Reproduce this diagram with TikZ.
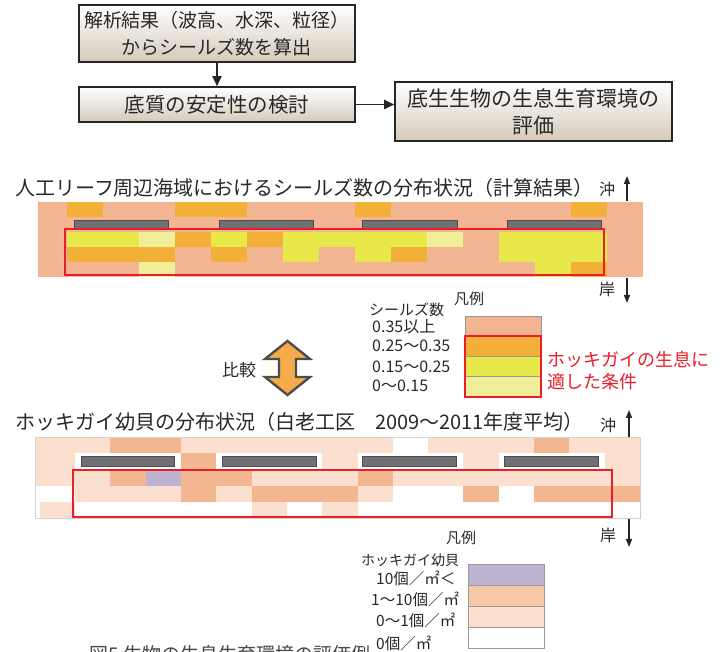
\documentclass[tikz,border=0pt]{standalone}
\usepackage{fontspec}
\setmainfont{Noto Sans CJK JP}
\usetikzlibrary{arrows.meta,positioning}

% map colours
\definecolor{hS}{RGB}{242,180,145}
\definecolor{hO}{RGB}{243,176,56}
\definecolor{hY}{RGB}{232,232,74}
\definecolor{hL}{RGB}{240,238,152}
\definecolor{bP}{RGB}{251,224,207}
\definecolor{bM}{RGB}{244,182,144}
\definecolor{bV}{RGB}{190,180,210}
\definecolor{bW}{RGB}{255,255,255}
\definecolor{lM}{RGB}{247,201,168}
\definecolor{reefgray}{RGB}{112,112,116}
\definecolor{markred}{RGB}{232,30,40}
\definecolor{boxtan}{RGB}{212,202,186}
\definecolor{txt}{RGB}{40,40,40}
\definecolor{cmporange}{RGB}{245,170,75}

\tikzset{
  flowbox/.style={draw=black!85, line width=1.6pt, top color=white, bottom color=boxtan,
    minimum width=276pt, align=center, text=txt, inner sep=0pt},
  flowarrow/.style={line width=1.8pt, draw=black!85, -{Triangle[length=10pt,width=9pt]}},
  reef/.style={fill=reefgray, draw=reefgray!70!black, line width=0.6pt},
  zone/.style={draw=markred, line width=1.8pt},
  legbox/.style={draw=gray!80, line width=0.8pt},
  sidearrow/.style={line width=1.5pt, draw=black!85, -{Triangle[length=8pt,width=6pt]}},
  lbl/.style={inner sep=0pt, text=txt},
}

\begin{document}
\begin{tikzpicture}[x=1pt,y=-1pt]
\useasboundingbox (0,0) rectangle (724,652);

%% flow
\node[flowbox, minimum height=57pt, font=\fontsize{19}{27}\selectfont] (calc) at (217,33.5)
  {解析結果（波高、水深、粒径）\\からシールズ数を算出};
\node[flowbox, minimum height=35pt, font=\fontsize{20.5}{27}\selectfont] (stab) at (217,104.5)
  {底質の安定性の検討};
\node[flowbox, minimum width=277pt, minimum height=59pt, font=\fontsize{21}{27}\selectfont] (eval) at (533.5,111.5)
  {底生生物の生息生育環境の\\評価};

\draw[flowarrow] (calc) -- (stab);
\draw[flowarrow] (stab.east) -- (stab.east -| eval.west);

%% calculated map
\node[lbl, anchor=west, font=\fontsize{20}{24}\selectfont] (title1) at (15,188)
  {人工リーフ周辺海域におけるシールズ数の分布状況（計算結果）};

\foreach \row [count=\r from 0] in {
  {S,O,S,S,O,O,S,S,S,O,S,S,S,S,S,O,S},
  {S,S,S,S,S,S,S,S,S,S,S,S,S,S,S,S,S},
  {S,Y,Y,L,O,Y,O,Y,Y,Y,Y,L,S,Y,Y,Y,S},
  {S,O,O,O,S,O,S,Y,S,Y,O,S,S,Y,Y,Y,S},
  {S,S,S,L,S,S,S,S,S,S,S,S,S,S,Y,O,S}} {
  \foreach \c [count=\k from 0] in \row {
    \pgfmathsetmacro\xa{ifthenelse(\k==0,38,67+36*(\k-1))}
    \pgfmathsetmacro\xb{67+36*\k}
    \fill[h\c] (\xa,202+15*\r) rectangle (\xb+0.3,217.3+15*\r);
  }
}

\foreach \xa/\xb in {74/168,219/313,362/457,507/601}
  \draw[reef] (\xa,220) rectangle (\xb,228);

\draw[zone] (65,229) rectangle (604,275);

\node[lbl, font=\fontsize{16}{18}\selectfont] (oki1) at (607,189) {沖};
\node[lbl, font=\fontsize{16}{18}\selectfont] (kishi1) at (607,289) {岸};
\coordinate (oki1top) at (627,176);
\coordinate (oki1bot) at (627,201);
\coordinate (kishi1top) at (627,278);
\coordinate (kishi1bot) at (627,303);
\draw[sidearrow] (oki1bot) -- (oki1top);
\draw[sidearrow] (kishi1top) -- (kishi1bot);

%% legend of the calculated map
\node[lbl, font=\fontsize{15}{18}\selectfont] (leg1title) at (469,299) {凡例};
\node[lbl, anchor=west, font=\fontsize{15}{18}\selectfont] (leg1head) at (369,310) {シールズ数};
\node[lbl, anchor=west, font=\fontsize{16}{18}\selectfont] (leg1a) at (372,327) {0.35以上};
\node[lbl, anchor=west, font=\fontsize{16}{18}\selectfont] (leg1b) at (372,346) {0.25～0.35};
\node[lbl, anchor=west, font=\fontsize{16}{18}\selectfont] (leg1c) at (372,367) {0.15～0.25};
\node[lbl, anchor=west, font=\fontsize{16}{18}\selectfont] (leg1d) at (372,386) {0～0.15};

\foreach \c [count=\i from 0] in {S,O,Y,L}
  \draw[legbox, fill=h\c] (465,316+20.25*\i) rectangle (541,336.25+20.25*\i);
\draw[zone] (465,336) rectangle (541,397);

\node[lbl, anchor=west, text=markred, font=\fontsize{18}{22}\selectfont] (suit1) at (547,360) {ホッキガイの生息に};
\node[lbl, anchor=west, text=markred, font=\fontsize{18}{22}\selectfont] (suit2) at (547,382) {適した条件};

%% comparison
\draw[fill=cmporange, draw=gray!60!black, line width=2.4pt, line join=miter]
  (287.5,341) -- (310,359) -- (296,359) -- (296,377) -- (310,377) -- (287.5,395)
  -- (265,377) -- (279,377) -- (279,359) -- (265,359) -- cycle;
\node[lbl, font=\fontsize{17}{20}\selectfont] (cmp) at (239,370) {比較};

%% observed map
\node[lbl, anchor=west, font=\fontsize{20}{24}\selectfont] (title2) at (15,422)
  {ホッキガイ幼貝の分布状況（白老工区　2009～2011年度平均）};

\foreach \row [count=\r from 0] in {
  {P,P,M,M,P,P,P,P,P,P,W,P,P,P,M,P,P},
  {P,W,W,W,M,W,W,W,P,W,W,W,P,W,W,W,P},
  {P,P,M,V,M,M,P,P,P,M,P,P,P,P,P,P,P},
  {W,P,P,P,M,P,M,M,M,P,W,W,M,W,M,M,M},
  {P,W,W,W,W,W,P,W,P,W,W,W,W,W,W,W,W}} {
  \foreach \c [count=\k from 0] in \row {
    \pgfmathsetmacro\xa{ifthenelse(\k==0,35,75+35.3125*(\k-1))}
    \pgfmathsetmacro\xb{75+35.3125*\k}
    \fill[b\c] (\xa,437+16.2*\r) rectangle (\xb+0.3,453.5+16.2*\r);
  }
}
\fill[white] (35,501.8) rectangle (40,518);
\draw[gray!35, line width=0.8pt] (35,437) rectangle (640,518);

\foreach \xa/\xb in {81/174,222/316,362/456,504/598}
  \draw[reef] (\xa,456) rectangle (\xb,466);

\draw[zone] (73,470) rectangle (612,517);

\node[lbl, font=\fontsize{16}{18}\selectfont] (oki2) at (608,425) {沖};
\node[lbl, font=\fontsize{16}{18}\selectfont] (kishi2) at (608,535) {岸};
\coordinate (oki2top) at (629,410);
\coordinate (oki2bot) at (629,437);
\coordinate (kishi2top) at (629,519);
\coordinate (kishi2bot) at (629,547);
\draw[sidearrow] (oki2bot) -- (oki2top);
\draw[sidearrow] (kishi2top) -- (kishi2bot);

%% legend of the observed map
\node[lbl, font=\fontsize{15}{18}\selectfont] (leg2title) at (461,538) {凡例};
\node[lbl, anchor=west, font=\fontsize{14}{17}\selectfont] (leg2head) at (361,560) {ホッキガイ幼貝};
\node[lbl, anchor=west, font=\fontsize{15.5}{18}\selectfont] (leg2a) at (376,578) {10個／㎡＜};
\node[lbl, anchor=west, font=\fontsize{15.5}{18}\selectfont] (leg2b) at (371,599) {1～10個／㎡};
\node[lbl, anchor=west, font=\fontsize{15.5}{18}\selectfont] (leg2c) at (376,620) {0～1個／㎡};
\node[lbl, anchor=west, font=\fontsize{15.5}{18}\selectfont] (leg2d) at (376,643) {0個／㎡};

\foreach \c [count=\i from 0] in {bV,lM,bP,bW}
  \draw[legbox, fill=\c] (468,564+21*\i) rectangle (544,585+21*\i);

%% caption, cut by the page edge
\node[lbl, anchor=north east, text=txt!85, font=\fontsize{19}{23}\selectfont] (figcap) at (371,645)
  {図5 生物の生息生育環境の評価例};

\end{tikzpicture}
\end{document}
